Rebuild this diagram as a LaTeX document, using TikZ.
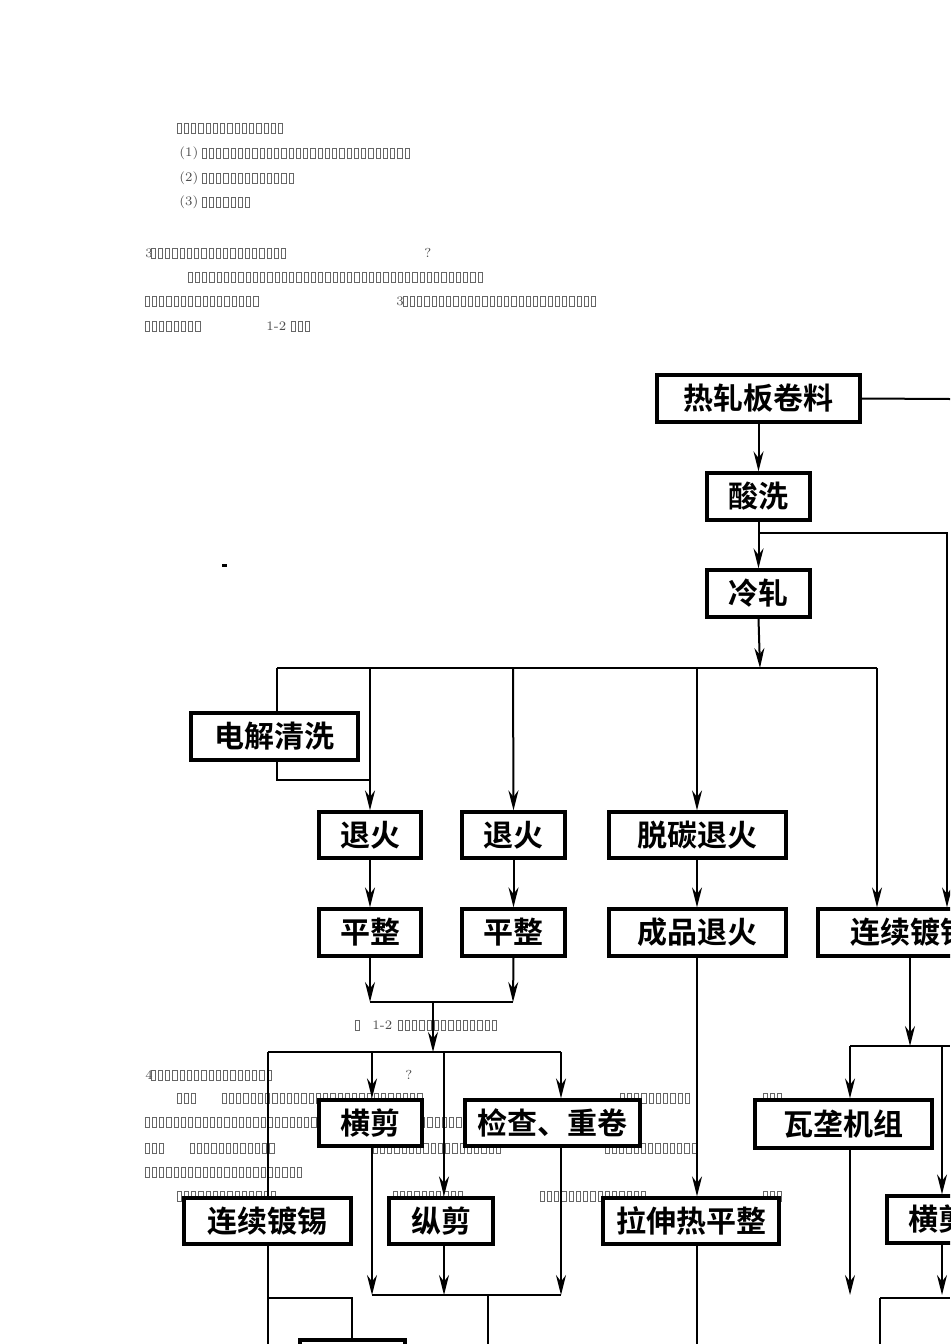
\documentclass[tikz,border=0pt]{standalone}
\usepackage{fontspec}
\newfontfamily\cjk{Noto Sans CJK SC}[BoldFont={* Bold}]
\usetikzlibrary{arrows.meta}
\tikzset{
  bx/.style={draw,line width=1.6pt,fill=white,inner sep=0pt,font=\cjk\fontsize{15}{15}\selectfont},
  ln/.style={line width=1pt},
  ar/.style={ln,-{Stealth[length=10pt,width=5pt]}},
  tofu/.style={draw=black!60,line width=0.3pt},
  small/.style={font=\fontsize{6.5}{7}\selectfont,inner sep=0pt,anchor=west,text=black!70}
}
\newcommand\bx[6]{\node[bx,minimum width={(#4-#2)*0.5pt},minimum height={(#5-#3)*0.5pt}] (#1) at ({(#2+#4)/2},{(#3+#5)/2}) {#6};}
\newcommand\tofurow[3]{\foreach \i in {1,...,#3}{\draw[tofu] ({#1+7.25*(\i-1)},{#2-5}) rectangle ++(4.2,10);}}
\begin{document}
\begin{tikzpicture}[x=0.5pt,y=-0.5pt]
\useasboundingbox (0,0) rectangle (950,1344);
\clip (0,0) rectangle (950,1344);
\fill[white] (0,0) rectangle (950,1344);
% text lines
\tofurow{177}{128}{15}
\node[small] (t1) at (179,153) {(1)}; \tofurow{202}{153}{29}
\node[small] (t2) at (179,178) {(2)}; \tofurow{202}{178}{13}
\node[small] (t3) at (179,202) {(3)}; \tofurow{202}{202}{7}
\node[small] (t4) at (145,253) {3}; \tofurow{151}{253}{19}
\node[small] (q1) at (424,253) {?};
\tofurow{188}{277}{41}
\tofurow{145}{301}{16}
\node[small] (t5) at (396,301) {3}; \tofurow{403}{301}{27}
\tofurow{145}{326}{8}
\node[small] (t6) at (266,326) {1-2}; \tofurow{291}{326}{3}
\tofurow{355}{1025}{1}
\node[small] (cap) at (372,1025) {1-2}; \tofurow{398}{1025}{14}
\node[small] (t7) at (145,1075) {4}; \tofurow{151}{1075}{17}
\node[small] (q2) at (405,1075) {?};
\tofurow{177}{1098}{3} \tofurow{222}{1098}{28} \tofurow{620}{1098}{10} \tofurow{763}{1098}{3}
\tofurow{145}{1122}{45}
\tofurow{145}{1148}{3} \tofurow{190}{1148}{12} \tofurow{373}{1148}{18} \tofurow{605}{1148}{13}
\tofurow{145}{1172}{22}
\tofurow{177}{1196}{14} \tofurow{393}{1196}{10} \tofurow{540}{1196}{15} \tofurow{763}{1196}{3}
\fill (222,564) rectangle ++(5,3);
% boxes
\bx{hot}{657}{375}{860}{422}{\bfseries 热轧板卷料}
\bx{acid}{707}{473}{810}{520}{\bfseries 酸洗}
\bx{cold}{707}{570}{810}{617}{\bfseries 冷轧}
\bx{elec}{191}{713}{358}{760}{\bfseries 电解清洗}
\bx{ann1}{319}{812}{421}{858}{\bfseries 退火}
\bx{ann2}{462}{812}{565}{858}{\bfseries 退火}
\bx{decarb}{609}{812}{786}{858}{\bfseries 脱碳退火}
\bx{flat1}{319}{909}{421}{956}{\bfseries 平整}
\bx{flat2}{462}{909}{565}{956}{\bfseries 平整}
\bx{final}{609}{909}{786}{956}{\bfseries 成品退火}
\bx{tinR}{818}{909}{1003}{956}{\bfseries 连续镀锡}
\bx{cut1}{319}{1100}{422}{1146}{\bfseries 横剪}
\bx{insp}{465}{1100}{640}{1146}{\bfseries 检查、重卷}
\bx{wave}{755}{1100}{932}{1148}{\bfseries 瓦垄机组}
\bx{tinL}{184}{1198}{351}{1244}{\bfseries 连续镀锡}
\bx{slit}{389}{1198}{493}{1244}{\bfseries 纵剪}
\bx{stretch}{603}{1198}{779}{1244}{\bfseries 拉伸热平整}
\bx{cut2}{887}{1196}{990}{1243}{\bfseries 横剪}
\bx{pack}{300}{1340}{405}{1387}{}
% junctions
\coordinate (rexit) at (950,399);
\coordinate (j1) at (760,533);
\coordinate (j2) at (760,668);
\coordinate (j3) at (433,1002);
\coordinate (j4) at (433,1052);
\coordinate (j5) at (910,1046);
\coordinate (j6) at (488,1295);
% connectors
\draw[ln] (hot.east) -- (rexit);
\draw[ar] (hot.south) -- (acid.north);
\draw[ar] (acid.south) -- (cold.north);
\draw[ar] (j1) -- (947,533) -- (tinR.north -| 947,0);
\draw[ar] (cold.south) -- (j2);
\draw[ln] (277,668) -- (877,668);
\draw[ln] (277,668) -- (elec.north -| 277,0);
\draw[ln] (elec.south -| 277,0) -- (277,780) -- (370,780);
\draw[ar] (370,668) -- (ann1.north);
\draw[ar] (513,668) -- (ann2.north);
\draw[ar] (697,668) -- (decarb.north -| 697,0);
\draw[ar] (877,668) -- (tinR.north -| 877,0);
\draw[ar] (ann1.south) -- (flat1.north);
\draw[ar] (ann2.south) -- (flat2.north);
\draw[ar] (decarb.south -| 697,0) -- (final.north -| 697,0);
\draw[ar] (flat1.south) -- (370,1002);
\draw[ar] (flat2.south) -- (513,1002);
\draw[ln] (370,1002) -- (513,1002);
\draw[ar] (j3) -- (j4);
\draw[ln] (268,1052) -- (561,1052);
\draw[ln] (268,1052) -- (tinL.north -| 268,0);
\draw[ar] (372,1052) -- (cut1.north -| 372,0);
\draw[ar] (444,1052) -- (slit.north -| 444,0);
\draw[ar] (561,1052) -- (insp.north -| 561,0);
\draw[ar] (final.south -| 697,0) -- (stretch.north -| 697,0);
\draw[ar] (tinR.south -| 910,0) -- (j5);
\draw[ln] (850,1046) -- (950,1046);
\draw[ar] (850,1046) -- (wave.north -| 850,0);
\draw[ar] (942,1046) -- (cut2.north -| 942,0);
\draw[ar] (cut1.south -| 372,0) -- (372,1295);
\draw[ar] (insp.south -| 561,0) -- (561,1295);
\draw[ar] (slit.south -| 444,0) -- (444,1295);
\draw[ln] (372,1295) -- (561,1295);
\draw[ln] (j6) -- (488,1344);
\draw[ln] (tinL.south -| 268,0) -- (268,1344);
\draw[ln] (268,1298) -- (352,1298) -- (pack.north -| 352,0);
\draw[ar] (wave.south -| 850,0) -- (850,1295);
\draw[ar] (cut2.south -| 942,0) -- (942,1295);
\draw[ln] (880,1298) -- (950,1298);
\draw[ln] (880,1298) -- (880,1344);
\draw[ln] (stretch.south -| 697,0) -- (697,1344);
\end{tikzpicture}
\end{document}
